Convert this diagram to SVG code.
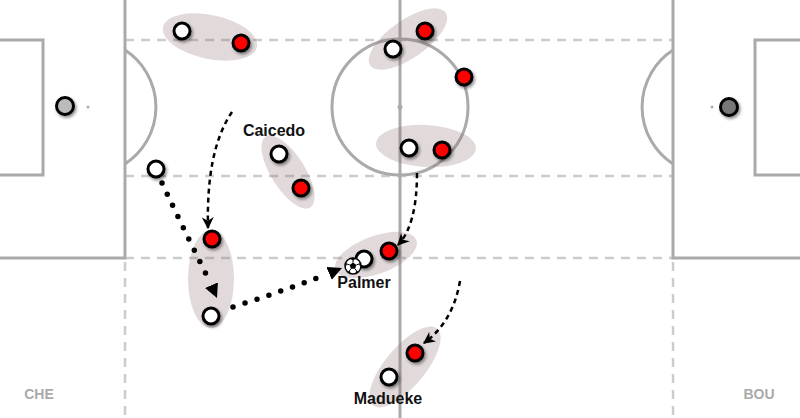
<svg xmlns="http://www.w3.org/2000/svg" width="800" height="418" viewBox="0 0 800 418">
<style>
.line{fill:none;stroke:#aaa;stroke-width:3}
.dash{fill:none;stroke:#ccc;stroke-width:2.5;stroke-dasharray:9 7}
.zone{fill:#8a6a6a;fill-opacity:0.25}
.pw{fill:#fff;stroke:#000;stroke-width:3;filter:url(#sh)}
.pr{fill:#f00;stroke:#000;stroke-width:3;filter:url(#sh)}
.run{fill:none;stroke:#000;stroke-width:2.5;stroke-dasharray:5 4}
.pass{fill:none;stroke:#000;stroke-width:5.5;stroke-linecap:round;stroke-dasharray:0 12.5}
.name{font-family:"Liberation Sans",Arial,sans-serif;font-weight:bold;font-size:16px;fill:#111;text-anchor:middle}
.team{font-family:"Liberation Sans",Arial,sans-serif;font-weight:bold;font-size:14px;fill:#aaa;text-anchor:middle}
</style>
<defs>
<filter id="sh" x="-50%" y="-50%" width="200%" height="200%">
<feDropShadow dx="1.5" dy="2" stdDeviation="1.5" flood-color="#000" flood-opacity="0.45"/>
</filter>
<marker id="ah" markerUnits="userSpaceOnUse" markerWidth="12" markerHeight="12" refX="9" refY="5" orient="auto" viewBox="0 0 10 10">
<path d="M0,0 L10,5 L0,10 L3,5 z" fill="#000"/>
</marker>
<marker id="tri" markerUnits="userSpaceOnUse" markerWidth="14" markerHeight="14" refX="10" refY="5" orient="auto" viewBox="0 0 10 10">
<path d="M0,0 L10,5 L0,10 z" fill="#000"/>
</marker>
</defs>
<rect width="800" height="418" fill="#fff"/>
<g id="pitch">
<line class="dash" x1="125" y1="40" x2="673" y2="40"/>
<line class="dash" x1="125" y1="176" x2="673" y2="176"/>
<line class="dash" x1="125" y1="258" x2="673" y2="258"/>
<line class="dash" x1="125" y1="262" x2="125" y2="418"/>
<line class="dash" x1="673" y1="262" x2="673" y2="418"/>
<polyline class="line" points="125,0 125,258 0,258"/>
<polyline class="line" points="0,40 43,40 43,175 0,175"/>
<path class="line" d="M125,50 A68,68 0 0 1 125,164"/>
<circle cx="88" cy="107" r="1.5" fill="#aaa"/>
<polyline class="line" points="673,0 673,258 800,258"/>
<polyline class="line" points="800,40 755,40 755,175 800,175"/>
<path class="line" d="M673,50 A68,68 0 0 0 673,164"/>
<circle cx="712" cy="107" r="1.5" fill="#aaa"/>
<line class="line" x1="400" y1="0" x2="400" y2="418"/>
<circle class="line" cx="400" cy="107" r="68"/>
<circle cx="400" cy="107" r="2.5" fill="#aaa"/>
</g>
<g id="zones">
<ellipse class="zone" cx="210" cy="37" rx="48" ry="22" transform="rotate(12 210 37)"/>
<ellipse class="zone" cx="408" cy="39" rx="46" ry="19" transform="rotate(-35 408 39)"/>
<ellipse class="zone" cx="426" cy="146" rx="50" ry="21" transform="rotate(3 426 146)"/>
<ellipse class="zone" cx="288" cy="172" rx="42" ry="17" transform="rotate(58 288 172)"/>
<ellipse class="zone" cx="211" cy="279" rx="23" ry="49"/>
<ellipse class="zone" cx="376" cy="255" rx="43" ry="19" transform="rotate(-20 376 255)"/>
<ellipse class="zone" cx="405" cy="367" rx="50" ry="20" transform="rotate(-50 405 367)"/>
</g>
<g id="connectors">
<path class="run" d="M232,112 Q206,150 208,228" marker-end="url(#ah)"/>
<path class="run" d="M417,173 Q417,225 398,245" marker-end="url(#ah)"/>
<path class="run" d="M460,281 Q453,322 424,343" marker-end="url(#ah)"/>
<path class="pass" d="M162,183 Q185,232 210,282"/>
<path d="M211,284 L217,298" fill="none" stroke="none" marker-end="url(#tri)"/>
<path class="pass" d="M233,307 Q280,292 325,275"/>
<path d="M330,273 L342,268" fill="none" stroke="none" marker-end="url(#tri)"/>
</g>
<g id="gk-che"><circle cx="65" cy="106" r="8.5" fill="#bbb" stroke="#000" stroke-width="3" filter="url(#sh)"/></g>
<g id="gk-bou"><circle cx="729" cy="107" r="8.5" fill="#777" stroke="#000" stroke-width="3" filter="url(#sh)"/></g>
<g id="p1"><circle class="pw" cx="182" cy="31" r="8"/></g>
<g id="p2"><circle class="pr" cx="241" cy="43" r="8"/></g>
<g id="p3"><circle class="pw" cx="393" cy="49" r="8"/></g>
<g id="p4"><circle class="pr" cx="425" cy="31" r="8"/></g>
<g id="p5"><circle class="pr" cx="464" cy="77" r="8"/></g>
<g id="p6"><circle class="pw" cx="409" cy="148" r="8"/></g>
<g id="p7"><circle class="pr" cx="442" cy="150" r="8"/></g>
<g id="caicedo"><circle class="pw" cx="279" cy="154" r="8"/><text class="name" x="274" y="136">Caicedo</text></g>
<g id="p9"><circle class="pr" cx="301" cy="188" r="8"/></g>
<g id="p10"><circle class="pw" cx="156" cy="169" r="8"/></g>
<g id="p11"><circle class="pr" cx="212" cy="239" r="8"/></g>
<g id="p12"><circle class="pw" cx="211" cy="316" r="8"/></g>
<g id="p13"><circle class="pr" cx="389" cy="251" r="8"/></g>
<g id="palmer"><circle class="pw" cx="364" cy="259" r="8"/><text class="name" x="364" y="288">Palmer</text></g>
<g id="ball">
<circle cx="353" cy="266" r="8" fill="#fff" stroke="#000" stroke-width="1.5"/>
<polygon points="353,262.5 356.3,264.9 355.1,268.8 350.9,268.8 349.7,264.9" fill="#000"/>
<path d="M353,258 L353,262.5 M356.3,264.9 L360.6,263.5 M355.1,268.8 L357.7,272.4 M350.9,268.8 L348.3,272.4 M349.7,264.9 L345.4,263.5" stroke="#000" stroke-width="1"/>
<path d="M349.5,258.8 L353,258.2 L356.5,258.8 L353,260.3z M345.5,262 L345.2,266.5 L346.9,265 z M360.5,262 L360.8,266.5 L359.1,265 z M347.5,272 L351,273.6 L349.7,271 z M358.5,272 L355,273.6 L356.3,271 z" fill="#000"/>
</g>
<g id="p15"><circle class="pr" cx="415" cy="353" r="8"/></g>
<g id="madueke"><circle class="pw" cx="389" cy="377" r="8"/><text class="name" x="388" y="404">Madueke</text></g>
<g id="teams">
<text class="team" x="39" y="399">CHE</text>
<text class="team" x="759" y="399">BOU</text>
</g>
</svg>
